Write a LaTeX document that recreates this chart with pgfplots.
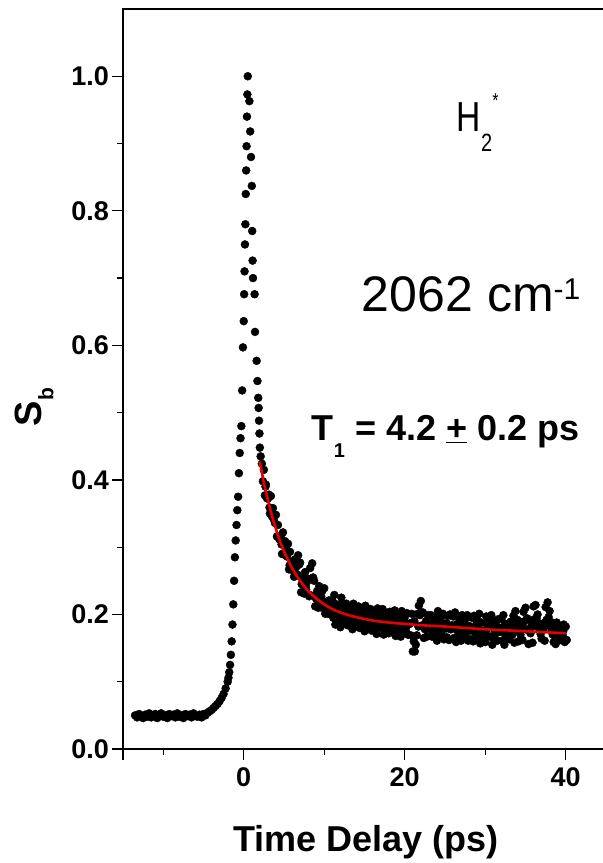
\documentclass[border=0pt]{standalone}
\usepackage{fontspec}
\setmainfont{Liberation Sans}
\newfontfamily\condfont[FakeStretch=0.8]{Liberation Sans}
\usepackage{pgfplots}
\pgfplotsset{compat=1.18}
\definecolor{fitred}{RGB}{230,0,0}

\pgfplotstableread{
x y
-13.5 .050
-13.25 .047
-13 .052
-12.75 .049
-12.5 .046
-12.25 .051
-12 .048
-11.75 .053
-11.5 .047
-11.25 .050
-11 .052
-10.75 .046
-10.5 .049
-10.25 .053
-10 .048
-9.75 .050
-9.5 .046
-9.25 .052
-9 .049
-8.75 .051
-8.5 .047
-8.25 .053
-8 .048
-7.75 .050
-7.5 .046
-7.25 .052
-7 .049
-6.75 .051
-6.5 .047
-6.25 .053
-6 .049
-5.75 .048
-5.5 .051
-5.25 .047
-5 .052
-4.75 .050
-4.5 .054
-4.25 .056
-4 .058
-3.75 .061
-3.5 .064
-3.25 .067
-3 .071
-2.75 .076
-2.5 .082
-2.25 .090
-2 .100
-1.9 .106
-1.8 .114
-1.7 .125
-1.6 .140
-1.5 .160
-1.4 .185
-1.3 .215
-1.2 .250
-1.1 .285
-1.0 .310
-0.9 .333
-0.8 .355
-0.7 .375
-0.6 .410
-0.5 .440
-0.4 .462
-0.3 .480
-0.2 .533
-0.1 .597
0 .636
0.05 .676
0.1 .710
0.15 .750
0.2 .780
0.25 .825
0.3 .860
0.35 .896
0.4 .940
0.45 .973
0.5 1.0
0.7 .963
0.8 .918
0.9 .880
1.0 .837
1.05 .770
1.1 .726
1.15 .700
1.35 .676
1.4 .620
1.6 .577
1.7 .547
1.8 .522
1.85 .507
1.9 .488
1.95 .469
2.0 .448
2.1 .435
2.25 .424
2.5 .415
2.75 .393
3.0 .372
3.25 .350
3.5 .346
3.75 .348
4.0 .348
4.25 .333
4.5 .311
4.75 .290
5.0 .289
5.25 .298
5.5 .305
5.75 .293
6.0 .274
6.25 .256
6.5 .270
6.75 .288
7.0 .277
7.25 .254
7.5 .231
7.75 .237
8.0 .253
8.25 .269
8.5 .276
8.75 .250
9.0 .223
9.25 .210
9.5 .221
9.75 .235
10 .239
10.25 .219
10.5 .201
10.75 .207
11 .221
11.25 .229
11.5 .215
11.75 .194
12 .181
12.25 .189
12.5 .204
12.75 .216
13 .209
13.25 .192
13.5 .178
13.75 .187
14 .202
14.25 .212
14.5 .201
14.75 .185
15 .175
15.25 .187
15.5 .202
15.75 .208
16 .194
16.25 .178
16.5 .171
16.75 .184
17 .200
17.25 .208
17.5 .195
17.75 .179
18 .172
18.25 .185
18.5 .201
18.75 .206
19 .190
19.25 .174
19.5 .167
19.75 .180
20 .196
20.25 .202
20.5 .186
20.75 .169
21 .145
21.25 .145
21.5 .169
21.75 .213
22 .220
22.25 .203
22.5 .178
22.75 .167
23 .183
23.25 .199
23.5 .189
23.75 .170
24 .161
24.25 .177
24.5 .195
24.75 .201
25 .185
25.25 .166
25.5 .162
25.75 .178
26 .197
26.25 .203
26.5 .186
26.75 .167
27 .161
27.25 .174
27.5 .193
27.75 .199
28 .183
28.25 .163
28.5 .160
28.75 .173
29 .192
29.25 .201
29.5 .188
29.75 .168
30 .159
30.25 .168
30.5 .187
30.75 .199
31 .190
31.25 .171
31.5 .161
31.75 .174
32 .193
32.25 .199
32.5 .186
32.75 .166
33 .163
33.25 .182
33.5 .198
33.75 .205
34 .192
34.25 .176
34.5 .188
34.75 .204
35 .210
35.25 .194
35.5 .178
35.75 .190
36 .212
36.25 .214
36.5 .200
36.75 .177
37 .164
37.25 .187
37.5 .211
37.75 .218
38 .205
38.25 .176
38.5 .159
38.75 .156
39 .169
39.25 .182
39.5 .175
39.75 .185
40 .182
}\datatable

\pgfplotstableread{
x y
2.375 .398
2.625 .377
2.875 .373
3.125 .378
3.375 .376
3.625 .358
3.875 .336
4.125 .316
4.375 .313
4.625 .317
4.875 .322
5.125 .309
5.375 .286
5.625 .267
5.875 .267
6.125 .279
6.375 .282
6.625 .258
6.875 .274
7.125 .233
7.375 .248
7.625 .263
7.875 .249
8.125 .227
8.375 .253
8.625 .255
8.875 .212
9.125 .235
9.375 .242
9.625 .227
9.875 .209
10.125 .201
10.375 .207
10.625 .221
10.875 .213
11.125 .195
11.375 .185
11.625 .195
11.875 .214
12.125 .225
12.375 .215
12.625 .198
12.875 .184
13.125 .189
13.375 .204
13.625 .216
13.875 .207
14.125 .190
14.375 .180
14.625 .189
14.875 .205
15.125 .213
15.375 .199
15.625 .182
15.875 .176
16.125 .188
16.375 .204
16.625 .209
16.875 .196
17.125 .180
17.375 .170
17.625 .183
17.875 .199
18.125 .204
18.375 .191
18.625 .175
18.875 .168
19.125 .184
19.375 .200
19.625 .205
19.875 .192
20.125 .176
20.375 .170
20.625 .186
20.875 .201
21.125 .160
21.375 .155
21.625 .201
21.875 .199
22.125 .202
22.375 .165
22.625 .190
22.875 .199
23.125 .178
23.375 .167
23.625 .177
23.875 .196
24.125 .205
24.375 .189
24.625 .169
24.875 .163
25.125 .179
25.375 .198
25.625 .200
25.875 .184
26.125 .165
26.375 .159
26.625 .174
26.875 .193
27.125 .199
27.375 .186
27.625 .167
27.875 .161
28.125 .177
28.375 .195
28.625 .198
28.875 .185
29.125 .166
29.375 .157
29.625 .168
29.875 .188
30.125 .197
30.375 .188
30.625 .167
30.875 .155
31.125 .164
31.375 .183
31.625 .193
31.875 .180
32.125 .161
32.375 .155
32.625 .166
32.875 .186
33.125 .189
33.375 .170
33.625 .158
33.875 .191
34.125 .160
34.375 .170
34.625 .162
34.875 .190
35.125 .193
35.375 .156
35.625 .172
35.875 .158
36.125 .193
36.375 .194
36.625 .187
36.875 .171
37.125 .184
37.375 .161
37.625 .192
37.875 .196
38.125 .189
38.375 .170
38.625 .185
38.875 .188
39.125 .175
39.375 .162
39.625 .169
39.875 .159
40.125 .162
}\datatableb

\pgfplotstableread{
x y
2.7 .390
3.2 .359
3.7 .342
4.2 .316
4.7 .304
5.2 .294
5.7 .273
6.2 .265
6.7 .259
7.2 .245
7.7 .242
8.2 .229
8.7 .228
9.2 .227
9.7 .214
10.2 .213
10.7 .214
11.2 .205
11.7 .207
12.2 .198
12.7 .202
13.2 .204
13.7 .194
14.2 .196
14.7 .199
15.2 .192
15.7 .195
16.2 .187
16.7 .191
17.2 .195
17.7 .186
18.2 .188
18.7 .192
19.2 .185
19.7 .189
20.2 .182
20.7 .187
21.2 .190
21.7 .182
22.2 .184
22.7 .188
23.2 .181
23.7 .186
24.2 .179
24.7 .183
25.2 .187
25.7 .178
26.2 .181
26.7 .184
27.2 .178
27.7 .183
28.2 .176
28.7 .180
29.2 .184
29.7 .175
30.2 .178
30.7 .181
31.2 .175
31.7 .180
32.2 .173
32.7 .177
33.2 .181
33.7 .180
34.2 .182
34.7 .181
35.2 .177
35.7 .182
36.2 .183
36.7 .180
37.2 .178
37.7 .185
38.2 .180
38.7 .175
39.2 .174
39.7 .176
}\datatablec

\pgfplotstableread{
x y
2.0 .427
2.5 .396
3.0 .370
3.5 .347
4.0 .327
4.5 .309
5.0 .294
6.0 .269
7.0 .250
8.0 .235
9.0 .224
10 .215
11 .208
12 .203
13 .199
14 .196
16 .191
18 .188
20 .186
22 .184
25 .182
30 .178
35 .175
40 .172
}\fittable

\begin{document}
\begin{tikzpicture}
\useasboundingbox (0,0) rectangle (603pt,863pt);
\clip (0,0) rectangle (603pt,863pt);
\begin{axis}[
  at={(123pt,114pt)}, anchor=south west,
  scale only axis, width=483pt, height=740pt,
  xmin=-15, xmax=45, ymin=0, ymax=1.1,
  axis line style={line width=1.5pt},
  every tick/.style={line width=1.3pt, black},
  tick align=outside,
  xtick pos=left, ytick pos=left,
  xtick={0,20,40}, minor xtick={-10,10,30},
  extra x ticks={-15}, extra x tick labels={},
  ytick={0,0.2,0.4,0.6,0.8,1.0}, minor ytick={0.1,0.3,0.5,0.7,0.9},
  major tick length=11pt, minor tick length=6pt,
  /pgf/number format/assume math mode=true,
  ticklabel style={font=\fontsize{27}{27}\selectfont\bfseries},
  yticklabel style={/pgf/number format/fixed, /pgf/number format/fixed zerofill, /pgf/number format/precision=1, inner sep=3pt},
  xticklabel style={inner sep=7pt},
  xlabel={Time Delay (ps)},
  xlabel style={font=\fontsize{36}{36}\selectfont\bfseries, at={(axis description cs:0.503,-0.139)}, anchor=base},
  ylabel={S\raisebox{-12pt}{\fontsize{21}{21}\selectfont b}},
  ylabel style={font=\fontsize{38}{38}\selectfont\bfseries, at={(axis description cs:-0.184,0.462)}, anchor=center},
  clip=false, clip marker paths=true,
]
\addplot[only marks, mark=*, mark size=4pt, black] table[x=x,y=y] {\datatable};
\addplot[only marks, mark=*, mark size=4pt, black] table[x=x,y=y] {\datatableb};
\addplot[only marks, mark=*, mark size=4pt, black] table[x=x,y=y] {\datatablec};
\addplot[fitred, line width=2.6pt, smooth] table[x=x,y=y] {\fittable};
\node[anchor=base west, inner sep=0, font=\condfont\fontsize{42}{42}\selectfont] at (axis cs:26.46,0.918) {H\raisebox{-20pt}{\fontsize{25}{25}\selectfont 2}\raisebox{24pt}{\fontsize{20}{20}\selectfont *}};
\node[anchor=base west, inner sep=0, font=\fontsize{50}{50}\selectfont] at (axis cs:14.66,0.651) {2062 cm\raisebox{12pt}{\fontsize{30}{30}\selectfont -1}};
\node[anchor=base west, inner sep=0, font=\fontsize{36}{36}\selectfont\bfseries] at (axis cs:8.45,0.458) {T\raisebox{-17pt}{\fontsize{20}{20}\selectfont 1} = 4.2 \underline{+} 0.2 ps};
\end{axis}
\end{tikzpicture}
\end{document}
